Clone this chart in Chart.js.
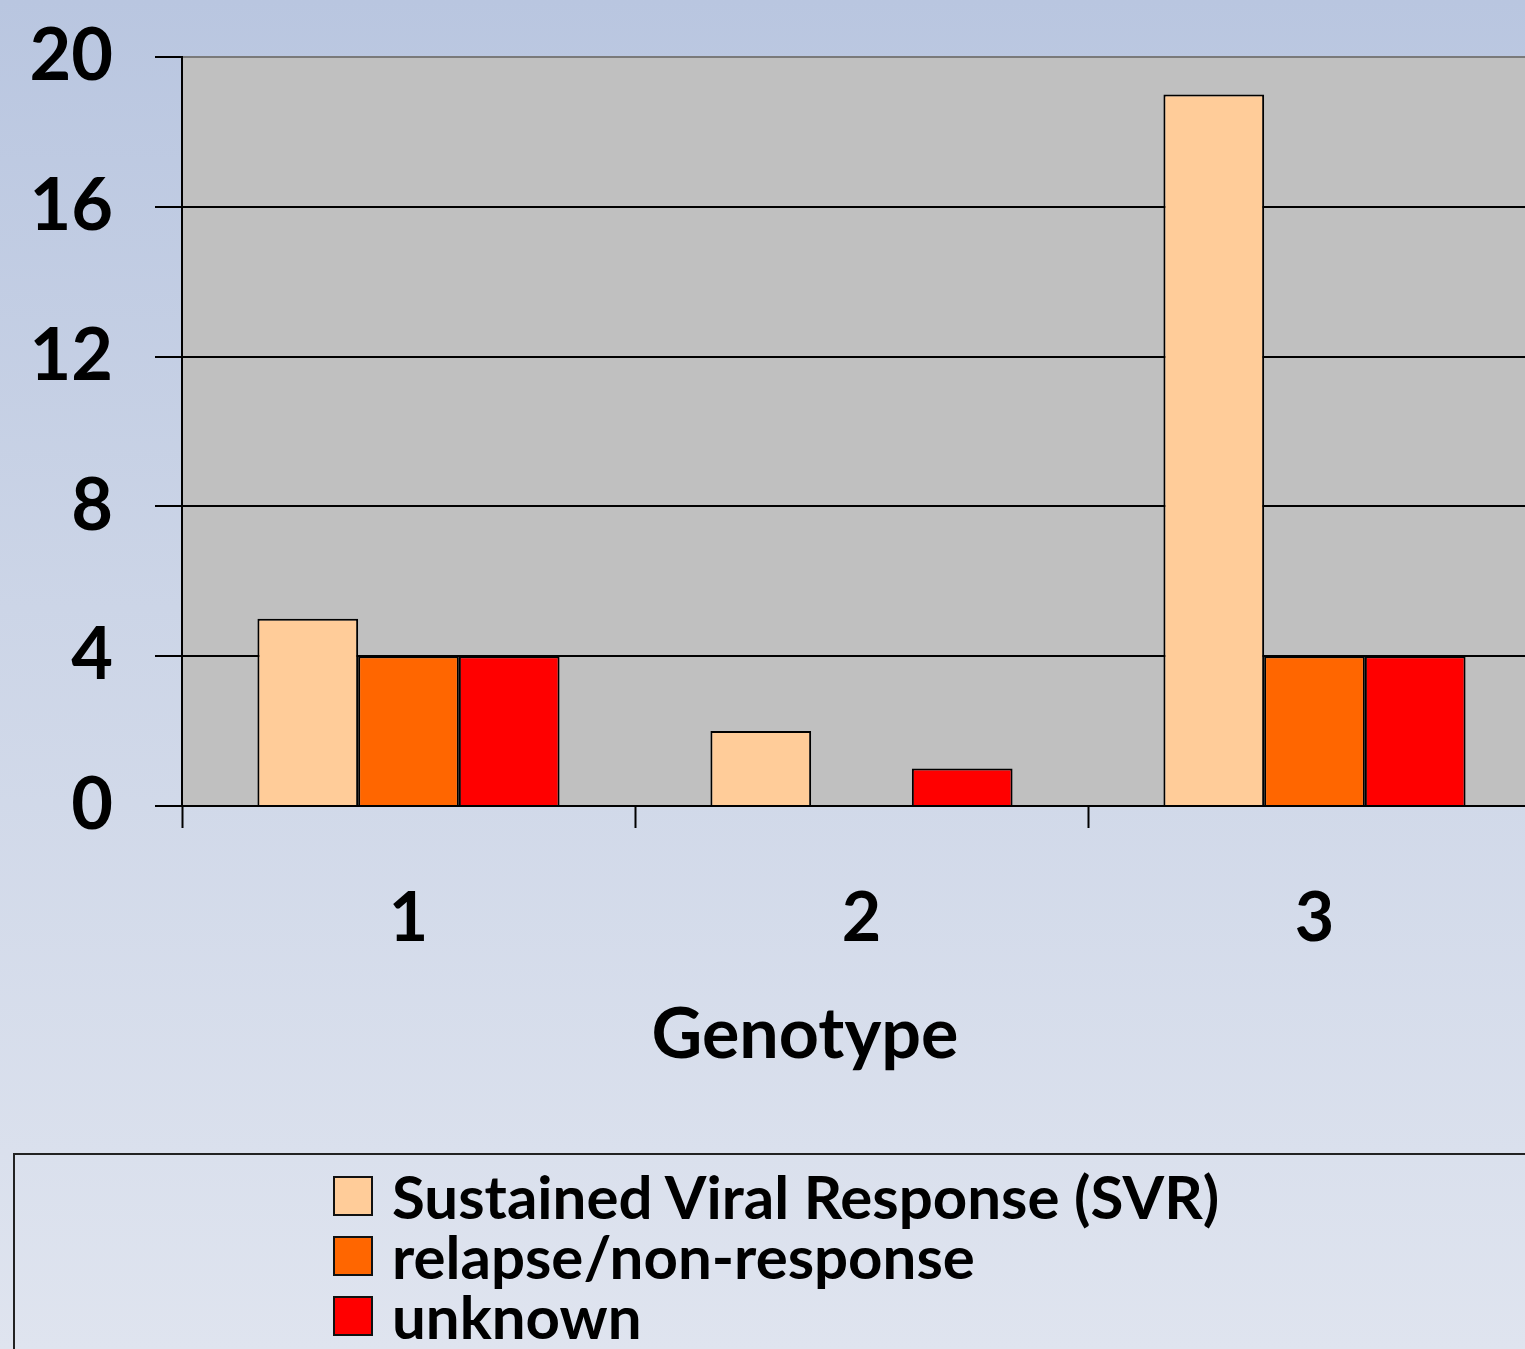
<!DOCTYPE html>
<html lang="en">
<head>
    <meta charset="UTF-8">
    <title>Genotype response</title>
    <script src="https://cdn.jsdelivr.net/npm/chart.js"></script>
    <style>
        html, body {
            margin: 0;
            padding: 0;
            width: 1525px;
            height: 1349px;
            overflow: hidden;
            background: linear-gradient(to bottom, #b9c6e0 0%, #ccd5e7 45%, #dfe4ef 100%);
            font-family: Lato, "Open Sans", sans-serif;
        }
        #chart {
            position: absolute;
            left: 0;
            top: 0;
        }
        #legend {
            position: absolute;
            left: 13px;
            top: 1153px;
            width: 1700px;
            height: 400px;
            border: 2px solid #222;
            box-sizing: border-box;
        }
        #legend ul {
            list-style: none;
            margin: 0;
            padding: 0;
            position: absolute;
            left: 318px;
            top: 11px;
        }
        #legend li {
            display: flex;
            align-items: center;
            height: 60px;
            font-weight: bold;
            font-size: 60px;
            color: #000;
            white-space: nowrap;
        }
        #legend .swatch {
            width: 36px;
            height: 36px;
            border: 2px solid #111;
            margin-right: 19px;
            flex: none;
        }
    </style>
</head>
<body>
    <canvas id="chart" width="1600" height="1100"></canvas>
    <div id="legend"></div>

    <script>
// chart values
const genotypes = ['1', '2', '3'];
const seriesNames = ['Sustained Viral Response (SVR)', 'relapse/non-response', 'unknown'];
const svr = [5, 2, 19];
const relapse = [4, 0, 4];
const unknown = [4, 1, 4];
const yTicks = [0, 4, 8, 12, 16, 20];
const xTitle = 'Genotype';

const colors = ['#ffcc99', '#ff6600', '#ff0000'];
const values = [svr, relapse, unknown];

// gray plot area behind the bars
const plotBackground = {
    id: 'plotBackground',
    beforeDraw(chart) {
        const { ctx, chartArea } = chart;
        ctx.save();
        ctx.fillStyle = '#c0c0c0';
        ctx.fillRect(chartArea.left, chartArea.top, chartArea.right - chartArea.left, chartArea.bottom - chartArea.top);
        ctx.restore();
    }
};

// axis title sits centred under the visible part of the slide, not the whole axis
const axisTitle = {
    id: 'axisTitle',
    afterDraw(chart) {
        const ctx = chart.ctx;
        ctx.save();
        ctx.font = 'bold 70px Lato';
        ctx.fillStyle = '#000';
        ctx.textAlign = 'center';
        ctx.textBaseline = 'alphabetic';
        ctx.fillText(xTitle, 805, 1058);
        ctx.restore();
    }
};

const chart = new Chart(document.getElementById('chart'), {
    type: 'bar',
    data: {
        labels: genotypes,
        datasets: seriesNames.map((name, i) => ({
            label: name,
            data: values[i],
            backgroundColor: colors[i],
            borderColor: '#000',
            borderWidth: 2,
            categoryPercentage: 0.667,
            barPercentage: 1.0
        }))
    },
    options: {
        responsive: false,
        animation: false,
        layout: {
            padding: { top: 57, right: 59, left: 0, bottom: 0 }
        },
        scales: {
            x: {
                grid: {
                    offset: true,
                    drawOnChartArea: false,
                    drawTicks: true,
                    tickLength: 22,
                    tickWidth: 2,
                    tickColor: '#000'
                },
                border: { color: '#000', width: 2 },
                ticks: {
                    color: '#000',
                    padding: 50,
                    font: { family: 'Lato', weight: 'bold', size: 68 }
                },
                afterFit(scale) {
                    scale.height = 294;
                    scale.paddingLeft = 0;
                    scale.paddingRight = 0;
                }
            },
            y: {
                min: 0,
                max: 20,
                afterBuildTicks(scale) {
                    scale.ticks = yTicks.map(v => ({ value: v }));
                },
                grid: {
                    color: ctx => ctx.tick && ctx.tick.value === 20 ? '#7a7a7a' : '#000',
                    lineWidth: 2,
                    tickLength: 27,
                    tickColor: '#000'
                },
                border: { color: '#000', width: 2 },
                ticks: {
                    color: '#000',
                    padding: 42,
                    font: { family: 'Lato', weight: 'bold', size: 72 }
                },
                afterFit(scale) {
                    scale.width = 182;
                    scale.paddingTop = 0;
                    scale.paddingBottom = 0;
                }
            }
        },
        plugins: {
            legend: { display: false },
            tooltip: { enabled: false }
        }
    },
    plugins: [plotBackground, axisTitle]
});

// legend box, built from the chart datasets
const list = document.createElement('ul');
chart.data.datasets.forEach(ds => {
    const li = document.createElement('li');
    const sw = document.createElement('span');
    sw.className = 'swatch';
    sw.style.background = ds.backgroundColor;
    li.appendChild(sw);
    li.appendChild(document.createTextNode(ds.label));
    list.appendChild(li);
});
document.getElementById('legend').appendChild(list);
    </script>
</body>
</html>
